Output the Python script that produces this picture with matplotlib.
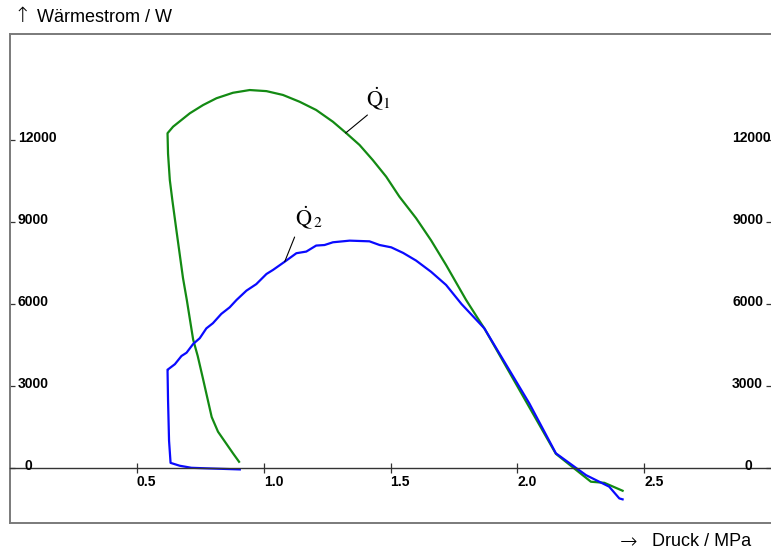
import numpy as np
import matplotlib.pyplot as plt

plt.rcParams['font.family'] = ['Liberation Sans', 'DejaVu Sans']
plt.rcParams['mathtext.fontset'] = 'stix'

# Q1 (green) : Druck in MPa, Wärmestrom in W
q1_p = [0.903, 0.879, 0.820, 0.800, 0.795, 0.760, 0.740, 0.722, 0.697, 0.682,
        0.656, 0.640, 0.630, 0.623, 0.621, 0.643, 0.709, 0.761, 0.814, 0.879,
        0.945, 1.011, 1.076, 1.142, 1.207, 1.273, 1.326, 1.378, 1.430, 1.483,
        1.535, 1.601, 1.660, 1.719, 1.798, 1.844, 1.870, 2.152, 2.290, 2.343,
        2.415]
q1_w = [230, 540, 1330, 1760, 1870, 3300, 4100, 4700, 6150, 6950,
        8700, 9800, 10540, 11500, 12250, 12490, 12980, 13280, 13530, 13730,
        13830, 13790, 13650, 13400, 13100, 12670, 12250, 11820, 11270, 10660,
        9930, 9140, 8330, 7430, 6150, 5480, 5110, 520, -500, -540,
        -830]

# Q2 (blue)
q2_p = [0.906, 0.774, 0.715, 0.669, 0.633, 0.627, 0.623, 0.621, 0.623, 0.650,
        0.676, 0.696, 0.722, 0.748, 0.774, 0.800, 0.833, 0.866, 0.893, 0.932,
        0.971, 1.011, 1.037, 1.083, 1.129, 1.168, 1.207, 1.240, 1.273, 1.339,
        1.417, 1.457, 1.503, 1.550, 1.601, 1.660, 1.719, 1.780, 1.870, 2.047,
        2.152, 2.271, 2.323, 2.362, 2.402, 2.415]
q2_w = [-50, -10, 10, 85, 190, 1000, 2500, 3600, 3610, 3800,
        4100, 4220, 4540, 4750, 5110, 5300, 5640, 5880, 6150, 6490,
        6730, 7100, 7250, 7550, 7860, 7920, 8140, 8160, 8260, 8320,
        8295, 8160, 8075, 7870, 7590, 7180, 6700, 6000, 5110, 2370,
        540, -260, -500, -680, -1110, -1145]

x_ticks = [0.5, 1.0, 1.5, 2.0, 2.5]
x_labels = ['0.5', '1.0', '1.5', '2.0', '2.5']
y_ticks = [0, 3000, 6000, 9000, 12000]
y_labels = ['0', '3000', '6000', '9000', '12000']

fig = plt.figure(figsize=(7.71, 5.53), dpi=100)
ax = fig.add_axes([10 / 771, 30 / 553, 761 / 771, 489 / 553])
ax.set_xlim(0, 3.0)
ax.set_ylim(-2010, 15880)

ax.plot(q1_p, q1_w, color='#138a13', lw=1.6)
ax.plot(q2_p, q2_w, color='#0a0aff', lw=1.6)

# Rahmen
for s in ['left', 'top']:
    ax.spines[s].set_color('#7a7a7a')
    ax.spines[s].set_linewidth(1.4)
ax.spines['right'].set_visible(False)
ax.spines['bottom'].set_position(('data', 0))
ax.spines['bottom'].set_color('#333333')
ax.spines['bottom'].set_linewidth(1.0)
ax.plot([0, 1], [0, 0], transform=ax.transAxes, color='#7a7a7a', lw=1.4,
        clip_on=False)

ax.set_xticks(x_ticks)
ax.set_xticklabels(x_labels, fontsize=10, fontweight='bold', ha='left')
ax.tick_params(axis='x', direction='inout', length=7.5, width=0.9,
               color='#333333', pad=1.5)

ax.set_yticks(y_ticks)
ax.set_yticklabels([])
ax.tick_params(axis='y', direction='in', length=3.5, width=0.9, left=True,
               right=True, color='#333333')

ytr = ax.get_yaxis_transform()
for v, lab in zip(y_ticks, y_labels):
    xl = 0.0197 if v == 0 else 0.0105
    xr = 0.965 if v == 0 else 0.949
    ax.text(xl, v - 80, lab, transform=ytr, fontsize=10, fontweight='bold',
            ha='left', va='baseline')
    ax.text(xr, v - 80, lab, transform=ytr, fontsize=10, fontweight='bold',
            ha='left', va='baseline')

# Beschriftung der Kurven
ax.annotate('', xy=(1.323, 12257), xytext=(1.409, 12916),
            arrowprops=dict(arrowstyle='-', color='black', lw=0.8,
                            shrinkA=0, shrinkB=0))
ax.text(1.404, 13250, r'$\dot{\mathrm{Q}}_1$', fontsize=16, ha='left',
        va='baseline')
ax.annotate('', xy=(1.083, 7550), xytext=(1.122, 8452),
            arrowprops=dict(arrowstyle='-', color='black', lw=0.8,
                            shrinkA=0, shrinkB=0))
ax.text(1.124, 8890, r'$\dot{\mathrm{Q}}_{\,2}$', fontsize=16, ha='left',
        va='baseline')

fig.text(13 / 771, 1 - 16 / 553, '\u2191', fontsize=15, ha='left',
         va='center', family=['DejaVu Sans'], fontweight='light')
fig.text(37 / 771, 1 - 17 / 553, 'Wärmestrom / W', fontsize=13,
         ha='left', va='center')
fig.text(620 / 771, 1 - 542 / 553, '\u2192', fontsize=15, ha='left',
         va='center', family=['DejaVu Sans'], fontweight='light')
fig.text(652 / 771, 1 - 542 / 553, 'Druck / MPa', fontsize=13,
         ha='left', va='center')

fig.savefig('out.png', dpi=100)
